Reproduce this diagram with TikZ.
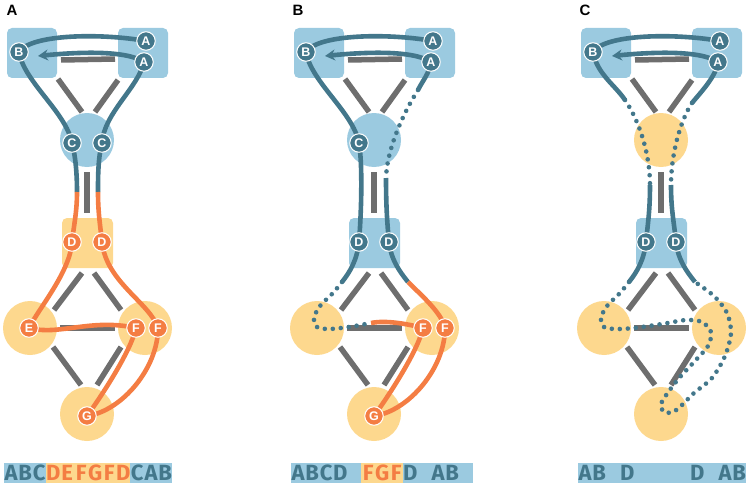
\documentclass[tikz,border=0pt]{standalone}
\usepackage{fontspec}
\setmainfont{Liberation Sans}
\newfontfamily\stripfont{Fira Sans}
\usetikzlibrary{arrows.meta}
\definecolor{paleblue}{HTML}{9BCAE0}
\definecolor{deepteal}{HTML}{43778B}
\definecolor{routeorange}{HTML}{F47D43}
\definecolor{paleyellow}{HTML}{FDD88E}
\definecolor{wallgray}{HTML}{6E6E6E}
\tikzset{
  route/.style={draw=deepteal, line width=4.6pt},
  hot/.style={draw=routeorange, line width=4.6pt},
  dotroute/.style={draw=deepteal, line width=4.6pt, line cap=round, dash pattern=on 0pt off 8pt},
  wall/.style={draw=wallgray, line width=5.5pt},
  room/.style={rounded corners=5pt},
  stopnode/.style={circle, fill=deepteal, draw=white, line width=1pt, text=white,
    inner sep=0pt, minimum size=18.5pt, font=\bfseries\fontsize{12.5}{12.5}\selectfont},
  hotnode/.style={stopnode, fill=routeorange},
  cellt/.style={fill=paleblue, text=deepteal, anchor=west, minimum width=14pt,
    minimum height=20pt, inner sep=0pt, font=\stripfont\bfseries\fontsize{22}{22}\selectfont},
  cello/.style={cellt, fill=paleyellow, text=routeorange},
  panel/.style={font=\bfseries\fontsize{15}{15}\selectfont}
}
\begin{document}
\begin{tikzpicture}[x=1pt, y=-1pt]
\useasboundingbox (0,0) rectangle (750,487);
%
% rooms, walls and points of the three plans
\foreach \p/\s/\cc/\dc in {a/0/paleblue/paleyellow, b/287/paleblue/paleblue, c/574/paleyellow/paleblue}{
\begin{scope}[xshift=\s]
  \fill[paleblue, room] (7,28) rectangle (57,78);
  \fill[paleblue, room] (118,28) rectangle (168,78);
  \fill[\cc] (87,140) circle[radius=27];
  \fill[\dc, room] (62,218) rectangle (113,268);
  \fill[paleyellow] (30,328) circle[radius=27];
  \fill[paleyellow] (145,328) circle[radius=27];
  \fill[paleyellow] (87,414) circle[radius=27];
  %
  \draw[wall] (61,60) -- (115,59);
  \draw[wall] (58,79) -- (82,112);
  \draw[wall] (118,80) -- (95,112);
  \draw[wall] (87,172) -- (87,213);
  \draw[wall] (82,273) -- (54,310);
  \draw[wall] (94,273) -- (121,310);
  \draw[wall] (60,328) -- (115,328);
  \draw[wall] (53,347) -- (81,385);
  \draw[wall] (121,347) -- (97,385);
  %
  \coordinate (\p-A1) at (146,41);
  \coordinate (\p-A2) at (144,62);
  \coordinate (\p-B) at (19,52);
  \coordinate (\p-tip) at (38,56);
  \coordinate (\p-C1) at (72,143);
  \coordinate (\p-C2) at (102,143);
  \coordinate (\p-D1) at (72,242);
  \coordinate (\p-D2) at (102,242);
  \coordinate (\p-E) at (29,328);
  \coordinate (\p-F1) at (136,328);
  \coordinate (\p-F2) at (158,328);
  \coordinate (\p-G) at (87,416);
  \coordinate (\p-s1) at (55,282);
  \coordinate (\p-s3) at (121,282);
\end{scope}
}
%
% upper rooms, same in all plans
\foreach \p in {a,b,c}{
  \draw[route] (\p-A1) .. controls +(-45,-8) and +(12,-18) .. (\p-B);
  \draw[route, -{Stealth[length=10pt, width=11pt]}] (\p-A2) .. controls +(-18,-12) and +(40,-4) .. (\p-tip);
}
%
% plan A
\coordinate (a-m1) at (77,192);
\coordinate (a-m2) at (98,192);
\draw[route] (a-B) .. controls +(5,30) and +(-6,-31) .. (a-C1);
\draw[route] (a-A2) .. controls +(-6,26) and +(2,-30) .. (a-C2);
\draw[route] (a-C1) .. controls +(4,15) and +(0,-15) .. (a-m1);
\draw[route] (a-C2) .. controls +(-4,15) and +(0,-15) .. (a-m2);
\draw[hot] (a-m1) .. controls +(0,20) and +(2,-18) .. (a-D1);
\draw[hot] (a-m2) .. controls +(0,20) and +(-2,-18) .. (a-D2);
\draw[hot] (a-D1) .. controls +(-2,30) and +(10,-20) .. (a-E);
\draw[hot] (a-E) .. controls +(30,8) and +(-45,-10) .. (a-F1);
\draw[hot] (a-D2) .. controls +(4,40) and +(-8,-25) .. (a-F2);
\draw[hot] (a-F1) .. controls +(-5,22) and +(18,-25) .. (a-G);
\draw[hot] (a-F2) .. controls +(0,40) and +(35,-5) .. (a-G);
%
% plan B
\begin{scope}[xshift=287]
\coordinate (b-p1) at (131,90);
\coordinate (b-p2) at (99,178);
\coordinate (b-s2) at (84,323);
\draw[route] (b-B) .. controls +(5,30) and +(-6,-31) .. (b-C1);
\draw[route] (b-C1) .. controls +(4,25) and +(2,-25) .. (b-D1);
\draw[route] (b-A2) .. controls +(-2,12) and +(5,-10) .. (b-p1);
\draw[dotroute] (b-p1) .. controls +(-14,22) and +(1,-30) .. (b-p2);
\draw[route] (b-p2) .. controls +(0,25) and +(-2,-20) .. (b-D2);
\draw[route] (b-D1) .. controls +(-2,18) and +(8,-10) .. (b-s1);
\draw[dotroute] plot[smooth] coordinates {(b-s1) (46,293) (33,306) (27,318) (30,327) (42,329) (62,327) (b-s2)};
\draw[hot] (b-s2) .. controls +(15,-3) and +(-15,-4) .. (b-F1);
\draw[route] (b-D2) .. controls +(2,18) and +(-8,-10) .. (b-s3);
\draw[hot] (b-s3) .. controls +(12,12) and +(-3,-15) .. (b-F2);
\draw[hot] (b-F1) .. controls +(-5,22) and +(18,-25) .. (b-G);
\draw[hot] (b-F2) .. controls +(0,40) and +(35,-5) .. (b-G);
\end{scope}
%
% plan C
\begin{scope}[xshift=574]
\coordinate (c-q1) at (51,100);
\coordinate (c-q2) at (76,185);
\coordinate (c-r1) at (118,103);
\coordinate (c-r2) at (97,185);
\draw[route] (c-B) .. controls +(4,22) and +(-10,-15) .. (c-q1);
\draw[dotroute] (c-q1) .. controls +(15,22) and +(0,-30) .. (c-q2);
\draw[route] (c-q2) .. controls +(0,25) and +(2,-20) .. (c-D1);
\draw[route] (c-A2) .. controls +(-2,15) and +(8,-10) .. (c-r1);
\draw[dotroute] (c-r1) .. controls +(-12,18) and +(0,-30) .. (c-r2);
\draw[route] (c-r2) .. controls +(0,25) and +(-2,-20) .. (c-D2);
\draw[route] (c-D1) .. controls +(-2,18) and +(8,-10) .. (c-s1);
\draw[route] (c-D2) .. controls +(2,18) and +(-8,-10) .. (c-s3);
\draw[dotroute] plot[smooth] coordinates {(c-s1) (46,293) (33,306) (27,318) (30,327) (42,329)
  (60,328) (88,324) (112,320) (128,322) (137,332) (134,346) (120,362) (106,377) (95,391)
  (87,404) (90,412) (99,412) (108,405) (120,393) (138,378) (151,356) (157,333) (153,313)
  (140,296) (c-s3)};
\end{scope}
%
% stops
\foreach \p in {a,b,c}{
  \node[stopnode] (\p-A1n) at (\p-A1) {A};
  \node[stopnode] (\p-A2n) at (\p-A2) {A};
  \node[stopnode] (\p-Bn) at (\p-B) {B};
}
\node[stopnode] (a-C1n) at (a-C1) {C};
\node[stopnode] (a-C2n) at (a-C2) {C};
\node[hotnode] (a-D1n) at (a-D1) {D};
\node[hotnode] (a-D2n) at (a-D2) {D};
\node[hotnode] (a-En) at (a-E) {E};
\node[hotnode] (a-F1n) at (a-F1) {F};
\node[hotnode] (a-F2n) at (a-F2) {F};
\node[hotnode] (a-Gn) at (a-G) {G};
%
\node[stopnode] (b-C1n) at (b-C1) {C};
\node[stopnode] (b-D1n) at (b-D1) {D};
\node[stopnode] (b-D2n) at (b-D2) {D};
\node[hotnode] (b-F1n) at (b-F1) {F};
\node[hotnode] (b-F2n) at (b-F2) {F};
\node[hotnode] (b-Gn) at (b-G) {G};
%
\node[stopnode] (c-D1n) at (c-D1) {D};
\node[stopnode] (c-D2n) at (c-D2) {D};
%
% panel letters
\node[panel] (la) at (12,10.5) {A};
\node[panel] (lb) at (298,10.5) {B};
\node[panel] (lc) at (585,10.5) {C};
%
% sequences
\foreach \l/\k [count=\i] in {A/t,B/t,C/t,D/o,E/o,F/o,G/o,F/o,D/o,C/t,A/t,B/t}
  \node[cell\k] (sa-\i) at (4+14*\i-14, 473.3) {\l};
\foreach \l/\k [count=\i] in {A/t,B/t,C/t,D/t,{}/t,F/o,G/o,F/o,D/t,{}/t,A/t,B/t,{}/t}
  \node[cell\k] (sb-\i) at (291+14*\i-14, 473.3) {\l};
\foreach \l/\k [count=\i] in {A/t,B/t,{}/t,D/t,{}/t,{}/t,{}/t,{}/t,D/t,{}/t,A/t,B/t}
  \node[cell\k] (sc-\i) at (578+14*\i-14, 473.3) {\l};
\end{tikzpicture}
\end{document}
